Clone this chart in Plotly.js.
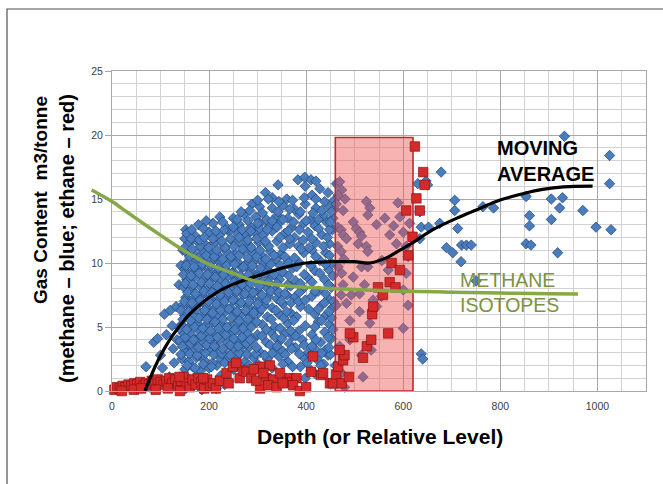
<!DOCTYPE html>
<html><head><meta charset="utf-8">
<script src="https://cdn.plot.ly/plotly-3.0.1.min.js"></script>
<style>html,body{margin:0;padding:0;background:#fff}#chart{width:663px;height:484px}</style>
</head><body><div id="chart"></div>
<script>
// ---- data ----
const methaneDepth = [
 70,78,86,94,100,104,108,112,118,120,
 124,126,128,132,134,138,142,146,150,152,
 152,168,178,185,200,215,232,
 146,160,176,192,224,240,312,398,420,
 150,166,183,200,216,250,300,330,388,410,436,
 144,158,174,190,207,223,240,258,274,292,320,344,362,395,424,445,
 150,166,182,198,215,231,248,265,282,306,335,352,378,404,418,440,
 140,156,172,189,205,222,238,255,272,290,318,345,365,392,430,452,
 147,163,180,196,212,229,246,262,279,300,327,356,372,385,412,438,
 143,159,175,192,208,225,242,258,275,293,310,336,362,398,425,448,
 150,166,183,200,216,233,250,266,284,302,320,344,368,380,418,440,
 146,162,178,195,211,228,245,262,280,297,314,330,352,388,405,432,454,
 152,168,185,202,219,236,253,270,287,305,322,340,360,376,412,446,
 148,164,181,198,214,231,248,265,282,300,318,335,368,394,425,452,
 154,170,187,204,220,237,254,272,290,308,326,345,378,402,438,
 150,166,183,200,216,233,250,268,285,302,320,352,372,418,446,
 156,172,189,206,223,240,258,276,294,312,338,362,386,428,452,
 152,168,185,202,219,236,254,272,290,308,326,348,395,412,440,
 158,176,194,212,230,248,266,284,302,320,340,366,384,420,448,
 154,172,200,222,240,258,276,294,312,330,356,376,404,432,454,
 178,208,238,262,286,305,324,346,370,395,418,442,
 222,250,272,296,318,340,362,385,410,436,455,
 288,304,330,352,376,398,420,445,458,
 316,330,360,396,412,445,342,398,428,
 383,397,410,420,
 155,171,188,205,232,265,283,310,352,372,402,430,
 142,160,176,193,210,226,244,262,278,296,315,330,357,386,410,432,450,
 145,162,178,195,211,228,244,260,277,298,326,340,370,396,412,447,
 151,168,184,201,217,234,251,268,285,309,336,350,378,420,445,
 139,154,170,187,203,220,237,253,270,287,318,346,368,418,455,
 146,162,179,196,212,229,246,262,280,298,328,354,374,432,452,
 142,158,174,191,207,224,241,258,275,292,308,338,360,425,447,
 149,165,182,199,215,232,249,266,283,300,318,348,369,384,398,438,456,
 156,172,189,206,223,240,257,274,291,309,327,344,356,386,418,440,
 151,167,184,201,217,234,251,268,286,304,322,340,362,388,412,446,
 147,163,180,197,213,230,247,264,281,298,316,334,364,396,428,455,
 153,169,186,203,219,236,253,271,289,306,326,346,380,410,440,
 160,178,194,211,228,245,262,280,298,317,334,356,376,420,448,
 150,165,182,199,216,233,251,269,287,305,323,352,390,406,436,
 163,180,190,208,226,244,262,280,298,316,346,366,394,412,444,
 164,188,214,231,250,268,286,304,320,340,363,386,426,448,
 194,228,258,280,300,330,352,374,400,425,450,
 266,284,310,342,366,388,414,432,452,
 300,322,344,372,420,438,458,
 462,469,473,466,476,524,531,527,562,589,593,613,
 465,472,476,483,465,472,503,510,514,507,524,527,
 572,586,606,610,466,473,497,514,527,569,606,476,
 472,493,510,555,462,483,490,510,538,545,610,531,
 600,469,514,534,473,460,517,479,480,497,545,580,600,462,478,556,520,600,490,
 630,650,634,637,652,634,678,932,1025,1025,706,706,
 675,712,764,786,853,905,928,922,860,905,970,860,
 997,1028,689,702,720,730,740,719,853,863,918,637,640,750,647
];
const methaneGas = [
 1.9,0.3,3.8,4.1,2.8,1.8,6.0,4.4,1.1,6.3,
 5.1,3.3,2.2,6.6,4.0,8.3,9.8,11.0,11.9,12.6,
 0.2,0.5,0.9,0.1,0.4,0.2,0.5,
 1.1,0.9,1.3,1.0,1.2,0.8,1.2,1.0,1.3,
 1.7,1.9,1.6,1.8,2.0,1.7,2.1,1.8,1.9,1.6,2.1,
 2.5,2.3,2.6,2.4,2.2,2.6,2.4,2.7,2.3,2.6,2.5,2.7,2.3,2.6,2.4,2.8,
 3.1,3.3,3.0,3.2,3.4,3.0,3.3,3.1,3.4,3.0,3.3,3.1,3.4,3.0,3.3,3.2,
 3.9,3.7,4.0,3.8,3.7,4.0,3.8,3.9,3.7,4.0,3.8,3.9,3.7,4.0,3.8,4.1,
 4.5,4.4,4.7,4.5,4.3,4.6,4.4,4.7,4.5,4.4,4.6,4.5,4.3,4.7,4.4,4.6,
 5.2,5.0,5.3,5.1,5.4,5.2,5.0,5.3,5.1,5.4,5.2,5.0,5.3,5.1,5.4,5.2,
 5.9,6.1,5.8,6.0,5.9,6.2,5.8,6.0,5.9,6.1,5.8,6.0,6.1,5.8,6.0,5.9,
 6.7,6.5,6.8,6.6,6.4,6.7,6.5,6.8,6.6,6.4,6.7,6.5,6.8,6.6,6.4,6.7,6.5,
 7.3,7.2,7.5,7.3,7.1,7.4,7.2,7.5,7.3,7.1,7.4,7.2,7.5,7.3,7.4,7.2,
 8.1,7.9,8.2,8.0,7.8,8.1,7.9,8.2,8.0,7.8,8.1,7.9,8.2,8.0,7.8,8.1,
 8.7,8.9,8.6,8.8,8.6,8.9,8.7,8.5,8.8,8.6,8.9,8.7,8.6,8.9,8.7,
 9.5,9.3,9.6,9.4,9.2,9.5,9.3,9.6,9.4,9.2,9.5,9.3,9.6,9.4,9.5,
 10.1,10.3,10.0,10.2,10.0,10.3,10.1,9.9,10.2,10.0,10.3,10.1,10.0,10.2,10.0,
 10.9,10.7,11.0,10.8,10.6,10.9,10.7,11.0,10.8,10.6,10.9,10.7,10.8,11.0,10.8,
 11.5,11.7,11.4,11.6,11.4,11.7,11.5,11.3,11.6,11.4,11.7,11.5,11.3,11.6,11.5,
 12.3,12.1,12.4,12.2,12.5,12.3,12.1,12.4,12.2,12.5,12.3,12.0,12.4,12.2,12.6,
 13.0,13.1,12.7,13.0,12.8,13.1,12.9,13.2,12.8,13.1,12.9,13.2,
 13.6,13.5,13.8,13.6,13.4,13.7,13.5,13.8,13.4,13.7,13.5,
 14.6,14.4,14.3,14.5,14.2,14.6,14.3,14.5,14.2,
 15.5,15.1,15.0,15.1,15.3,15.5,16.1,16.0,15.8,
 16.5,16.7,16.5,16.4,
 2.0,1.8,2.1,1.9,2.2,1.9,2.0,1.8,2.1,1.9,2.2,2.0,
 2.85,2.9,2.8,2.95,2.85,2.9,2.8,2.95,2.85,2.9,2.8,2.95,2.85,2.9,2.8,2.95,2.85,
 3.5,3.7,3.4,3.6,3.5,3.3,3.6,3.5,3.7,3.4,3.6,3.5,3.3,3.6,3.5,3.4,
 4.2,4.0,4.3,4.1,4.2,4.4,4.1,4.2,4.0,4.3,4.2,4.1,4.3,4.0,4.2,
 4.9,4.8,5.0,4.9,4.7,4.9,5.0,4.8,4.9,5.0,4.8,4.9,4.7,5.0,4.8,
 5.6,5.5,5.7,5.6,5.4,5.6,5.7,5.5,5.6,5.4,5.6,5.7,5.5,5.5,5.7,
 6.3,6.2,6.4,6.3,6.1,6.3,6.4,6.2,6.3,6.1,6.4,6.3,6.2,6.4,6.2,
 7.0,6.9,7.1,7.0,6.8,7.0,7.1,6.9,7.0,6.8,7.1,7.0,6.9,7.0,7.1,6.9,7.0,
 7.7,7.6,7.8,7.7,7.5,7.7,7.8,7.6,7.7,7.5,7.8,7.7,7.6,7.7,7.8,7.6,
 8.4,8.3,8.5,8.4,8.2,8.4,8.5,8.3,8.4,8.2,8.5,8.4,8.3,8.4,8.5,8.3,
 9.1,9.0,9.2,9.1,8.9,9.1,9.2,9.0,9.1,8.9,9.2,9.1,9.0,9.1,9.2,9.0,
 9.8,9.7,9.9,9.8,9.6,9.8,9.9,9.7,9.8,9.6,9.9,9.8,9.7,9.8,9.9,
 10.5,10.4,10.6,10.5,10.3,10.5,10.6,10.4,10.5,10.3,10.6,10.5,10.4,10.5,10.6,
 11.2,11.1,11.3,11.2,11.0,11.2,11.3,11.1,11.2,11.0,11.3,11.2,11.1,11.2,11.3,
 11.9,11.8,12.0,11.9,11.7,11.9,12.0,11.8,11.9,11.7,12.0,11.9,11.8,11.9,12.0,
 12.6,12.7,12.5,12.6,12.8,12.6,12.5,12.7,12.6,12.8,12.5,12.6,12.7,12.6,
 13.3,13.2,13.4,13.3,13.1,13.3,13.4,13.2,13.3,13.4,13.2,
 14.0,14.1,13.9,14.0,14.2,14.0,13.9,14.1,14.0,
 14.9,15.0,14.8,14.9,15.0,14.8,14.9,
 16.2,16.35,15.7,15.3,14.1,14.8,14.3,13.75,13.5,14.7,13.6,13.1,
 12.8,12.6,12.2,11.9,11.3,10.9,12.7,12.4,12.1,11.5,11.3,10.9,
 12.2,11.5,11.3,10.5,9.7,9.2,8.9,9.7,9.7,9.45,9.2,8.3,
 7.5,7.5,7.6,7.4,6.7,6.85,5.5,6.2,7.1,6.6,6.7,5.3,
 4.9,3.5,2.8,3.2,1.4,2.0,1.1,0.3,15.0,13.2,13.0,12.9,12.4,14.6,10.3,10.2,8.3,7.9,4.0,
 16.2,16.1,14.0,12.8,12.8,11.9,17.1,19.9,18.4,16.2,14.9,14.1,
 13.1,12.7,14.4,14.3,15.2,15.0,15.1,14.3,13.7,13.4,14.1,12.9,
 12.8,12.6,11.2,10.8,11.4,11.4,11.4,10.1,11.5,11.4,10.8,2.9,2.5,8.6,16.4
];
const ethaneDepth = [
 5,10,16,22,28,34,40,46,52,58,64,70,76,82,88,94,100,106,
 112,118,124,130,136,142,148,154,160,166,172,178,184,190,196,202,208,214,
 20,45,60,90,115,140,139,188,
 222,236,249,263,270,277,287,305,325,318,332,346,366,380,305,322,339,360,
 373,387,400,414,410,431,435,449,256,292,352,240,297,312,
 455,462,466,473,476,479,488,497,517,525,534,569,536,538,
 548,558,572,584,576,593,610,619,606,627,634,644,641,624,469,490
];
const ethaneGas = [
 0.1,0.3,0.2,0.4,0.3,0.5,0.4,0.6,0.5,0.7,0.4,0.6,0.5,0.8,0.6,0.9,0.7,0.5,
 0.8,1.0,0.6,0.9,0.4,0.8,1.1,0.6,0.3,0.9,0.5,1.0,0.7,0.2,0.9,0.4,0.6,0.2,
 0.0,0.1,0.2,0.1,0.2,0.0,1.1,1.0,
 0.8,1.4,1.9,1.0,1.6,1.5,1.0,1.9,2.0,1.0,0.9,1.4,1.0,1.0,0.2,0.45,0.3,0.7,
 0.45,0.0,0.3,2.7,1.5,1.25,1.4,0.6,2.2,1.7,0.6,0.6,0.8,1.4,
 0.6,1.3,1.9,0.6,2.4,2.8,1.1,4.2,2.6,3.5,4.0,4.5,6.0,6.6,
 8.1,7.5,8.5,8.1,10.0,9.45,10.6,12.05,14.1,15.05,14.1,16.1,17.1,19.1,3.2,4.5
];
const movingAvgDepth = [68,80,95,110,125,140,160,180,200,225,250,284,320,360,400,450,500,530,565,593,620,661,716,760,798,850,887,930,990];
const movingAvgGas   = [0,1.15,2.4,3.45,4.35,5.1,6.0,6.7,7.3,7.9,8.35,8.8,9.25,9.7,10.0,10.1,10.1,10.0,10.4,11.0,11.6,12.6,13.6,14.3,14.9,15.45,15.75,15.95,16.0];
const isotopeDepth = [-42,0,30,60,99,147,200,250,284,340,400,450,520,600,700,800,900,960];
const isotopeTrend = [15.7,14.8,14.0,13.2,12.2,11.0,9.9,9.2,8.7,8.3,8.1,8.0,7.9,7.8,7.72,7.65,7.6,7.58];
const zoneDepth = [460, 620];
const zoneGas = [0, 19.8];
const xTicks = [0,200,400,600,800,1000];
const yTicks = [0,5,10,15,20,25];

// ---- layout constants ----
const SANS = '"Liberation Sans",Arial,sans-serif';
const L = 88, R = 17, T = 71, B = 93, W = 663, H = 484;
const plotW = W - L - R, plotH = H - T - B;
const xStart = 24 / plotW;             // main x domain start (axis at 112px)
const xMax = 1100;
const x2Min = -xMax * xStart / (1 - xStart);

const traces = [
 {type:'scatter', mode:'markers', name:'methane', x:methaneDepth, y:methaneGas, cliponaxis:false,
  marker:{symbol:'diamond', size:8, color:'#4a7dbd', line:{color:'#1f3f72', width:0.7}}},
 {type:'scatter', mode:'lines', name:'zone', fill:'toself',
  x:[zoneDepth[0],zoneDepth[1],zoneDepth[1],zoneDepth[0],zoneDepth[0]],
  y:[zoneGas[0],zoneGas[0],zoneGas[1],zoneGas[1],zoneGas[0]],
  fillcolor:'rgba(238,85,85,0.45)', line:{color:'#c0282d', width:1.6}},
 {type:'scatter', mode:'markers', name:'ethane', x:ethaneDepth, y:ethaneGas, cliponaxis:false,
  marker:{symbol:'square', size:9.5, color:'#d42a2a', line:{color:'#8a1212', width:0.7}}},
 {type:'scatter', mode:'lines', name:'moving average', x:movingAvgDepth, y:movingAvgGas,
  line:{color:'#000000', width:3.2, shape:'spline', smoothing:1}},
 {type:'scatter', mode:'lines', name:'methane isotopes', x:isotopeDepth, y:isotopeTrend,
  xaxis:'x2', yaxis:'y2', line:{color:'#86a845', width:3.5, shape:'spline', smoothing:1}}
];

const layout = {
 width:W, height:H, margin:{l:L, r:R, t:T, b:B, pad:0},
 paper_bgcolor:'#ffffff', plot_bgcolor:'rgba(0,0,0,0)', showlegend:false,
 xaxis:{domain:[xStart,1], range:[0,xMax], tickvals:xTicks, ticktext:xTicks.map(String),
  showgrid:true, gridcolor:'#a8a8a8', gridwidth:1,
  minor:{dtick:50, tick0:0, showgrid:true, gridcolor:'#d2d2d2', gridwidth:1},
  showline:true, linecolor:'#a8a8a8', linewidth:1, mirror:true, zeroline:false,
  ticks:'outside', ticklen:5, tickcolor:'rgba(0,0,0,0)',
  tickfont:{family:SANS, size:10.5, color:'#404040'}},
 yaxis:{domain:[0,1], range:[0,25], tickvals:yTicks, ticktext:yTicks.map(String),
  showgrid:true, gridcolor:'#a8a8a8', gridwidth:1,
  minor:{dtick:1, tick0:0, showgrid:true, gridcolor:'#d2d2d2', gridwidth:1},
  showline:true, linecolor:'#a8a8a8', linewidth:1, mirror:true, zeroline:false,
  ticks:'outside', ticklen:6, tickcolor:'#a8a8a8',
  tickfont:{family:SANS, size:10.5, color:'#404040'}},
 xaxis2:{domain:[0,1], range:[x2Min,xMax], visible:false, showgrid:false, zeroline:false, anchor:'y2'},
 yaxis2:{domain:[0,1], range:[0,25], visible:false, showgrid:false, zeroline:false, anchor:'x2'},
 shapes:[
  {type:'rect', xref:'paper', yref:'paper', x0:(7-L)/plotW, x1:1.3, y0:-0.6, y1:(H-B-9)/plotH,
   line:{color:'#505050', width:1.2}, fillcolor:'rgba(0,0,0,0)', layer:'below'}
 ],
 annotations:[
  {xref:'paper', yref:'paper', x:(40-L)/plotW, y:(H-B-200)/plotH, textangle:-90, showarrow:false,
   text:'<b>Gas Content  m3/tonne</b>', font:{family:SANS, size:19, color:'#000'}, xanchor:'center', yanchor:'middle'},
  {xref:'paper', yref:'paper', x:(67-L)/plotW, y:(H-B-239)/plotH, textangle:-90, showarrow:false,
   text:'<b>(methane – blue; ethane – red)</b>', font:{family:SANS, size:20, color:'#000'}, xanchor:'center', yanchor:'middle'},
  {xref:'paper', yref:'paper', x:(380-L)/plotW, y:(H-B-436)/plotH, showarrow:false,
   text:'<b>Depth (or Relative Level)</b>', font:{family:SANS, size:21, color:'#000'}, xanchor:'center', yanchor:'middle'},
  {xref:'x', yref:'y', x:789, y:17.97, showarrow:false, xanchor:'left', yanchor:'middle', align:'left',
   text:'<b>MOVING<br>AVERAGE</b>', font:{family:SANS, size:20, color:'#000'}},
  {xref:'x', yref:'y', x:713, y:7.66, showarrow:false, xanchor:'left', yanchor:'middle', align:'left',
   text:'METHANE<br>ISOTOPES', font:{family:SANS, size:19.5, color:'#7d9240'}}
 ]
};

Plotly.newPlot('chart', traces, layout, {staticPlot:true, displayModeBar:false});
</script></body></html>
